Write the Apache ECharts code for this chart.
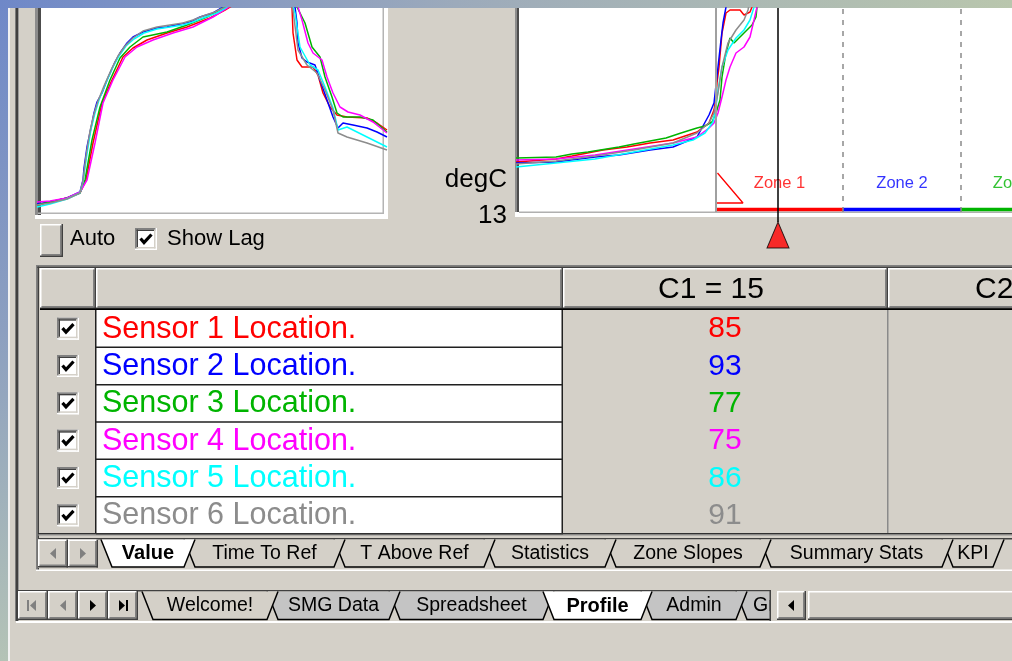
<!DOCTYPE html>
<html><head><meta charset="utf-8">
<script src="https://cdn.jsdelivr.net/npm/echarts@6/dist/echarts.min.js"></script>
<style>html,body{margin:0;padding:0;background:#d4d0c8;overflow:hidden}#c{width:1012px;height:661px}</style>
</head><body><div id="c"></div>
<script>
// ---------------- DATA ----------------
const sensorNames = ['Sensor 1 Location.','Sensor 2 Location.','Sensor 3 Location.','Sensor 4 Location.','Sensor 5 Location.','Sensor 6 Location.'];
const sensorColors = ['#ff0000','#0000ff','#00b400','#ff00ff','#00ffff','#8c8c8c'];
const c1Values = [85, 93, 77, 75, 86, 91];
const tableHeaders = ['C1 = 15', 'C2 = 20'];
const lagOptions = ['Auto', 'Show Lag'];
const valueTabs = ['Value','Time To Ref','T Above Ref','Statistics','Zone Slopes','Summary Stats','KPI'];
const sheetTabs = ['Welcome!','SMG Data','Spreadsheet','Profile','Admin','Graphs'];
const zoneNames = ['Zone 1','Zone 2','Zone 3'];
const zoneColors = ['#ff0000','#0000ff','#00b400'];
const zoneEdges = [200, 327, 445, 560];     // seconds
const cursorTime = 262;                      // seconds
const zoomWindow = [0, 496];                 // visible seconds in the zoomed view
const yAxisUnit = 'degC';
const yAxisMinLabel = 13;

// full profile (time s, temperature degC)
const fullS1 = [[0,21],[13,24],[30,28],[43,33],[49,46],[56,83],[65,123],[75,146],[86,169],[96,178],[110,186],[130,193],[150,199],[173,208],[188,216],[205,226],[230,238],[250,232],[255,219],[256,193],[260,166],[265,159],[276,159],[281,151],[286,133],[293,119],[300,111],[310,109],[330,108],[340,103],[350,96]];
const fullS2 = [[0,22],[13,24],[30,28],[43,34],[46,46],[47,58],[50,79],[55,103],[57,113],[60,124],[65,133],[70,146],[78,164],[83,173],[90,183],[96,189],[106,194],[120,198],[130,199],[143,202],[153,204],[163,209],[176,213],[186,219],[205,230],[230,240],[252,232],[258,219],[260,203],[261,183],[265,168],[270,164],[278,161],[283,146],[290,126],[296,109],[301,98],[306,103],[316,101],[330,98],[340,94],[350,89]];
const fullS3 = [[0,21],[13,24],[30,28],[43,33],[48,46],[55,86],[63,119],[73,146],[83,168],[93,179],[106,189],[130,194],[150,201],[170,209],[186,218],[205,229],[230,238],[252,232],[260,219],[268,203],[275,179],[283,169],[288,149],[295,129],[300,113],[306,109],[323,109],[336,106],[350,94]];
const fullS4 = [[0,24],[13,25],[30,28],[43,34],[50,46],[58,83],[66,123],[76,146],[88,169],[100,179],[116,186],[136,193],[156,199],[176,209],[190,218],[208,228],[232,238],[254,232],[261,219],[265,206],[271,183],[276,173],[285,166],[290,149],[296,133],[303,119],[311,114],[323,111],[336,104],[350,93]];
const fullS5 = [[0,19],[13,22],[30,27],[43,33],[46,44],[50,72],[54,97],[58,113],[62,126],[68,141],[76,159],[82,170],[89,180],[97,187],[107,193],[120,197],[133,199],[146,201],[156,204],[166,208],[180,213],[190,219],[207,229],[232,238],[252,231],[258,213],[263,179],[273,161],[281,156],[288,139],[296,118],[301,96],[310,99],[330,89],[350,79]];
const fullS6 = [[0,21],[13,23],[30,27],[43,33],[46,45],[49,70],[53,95],[57,112],[61,125],[67,140],[75,158],[81,170],[88,180],[96,188],[106,195],[120,199],[133,201],[146,203],[156,206],[166,210],[178,214],[188,219],[205,229],[230,239],[251,231],[256,216],[261,176],[270,161],[280,153],[288,136],[296,116],[301,93],[310,89],[330,83],[350,76]];

// zoomed view around zone 1 (time s, temperature degC)
const zoomS1 = [[0,63],[40,66],[56,69],[87,75],[111,78],[134,82],[157,85],[181,93],[193,102],[198,115],[200,127],[201,142],[203,158],[206,192],[210,212],[214,215],[224,215],[228,210],[234,213],[236,218],[245,235]];
const zoomS2 = [[0,62],[40,63],[79,68],[103,70],[134,75],[157,78],[181,88],[193,110],[198,122],[202,158],[205,185],[207,202],[210,218],[214,235]];
const zoomS3 = [[0,67],[40,68],[56,71],[72,73],[103,78],[118,81],[150,87],[165,92],[181,97],[189,99],[196,103],[200,112],[204,125],[206,148],[210,172],[214,187],[218,182],[228,192],[236,200],[240,208],[241,218],[245,235]];
const zoomS4 = [[0,65],[40,66],[79,70],[118,76],[157,82],[181,88],[193,97],[198,102],[202,112],[206,128],[210,145],[214,158],[220,172],[228,178],[234,188],[238,205],[241,218],[245,235]];
const zoomS5 = [[0,58],[40,62],[79,66],[118,73],[157,80],[177,85],[189,92],[197,103],[200,118],[202,135],[206,158],[212,175],[220,187],[228,195],[234,205],[238,218],[242,235]];
const zoomS6 = [[0,61],[40,64],[79,69],[118,75],[157,82],[181,92],[193,102],[198,112],[202,132],[206,158],[212,182],[220,195],[228,205],[232,215],[236,235]];

const fullData = [fullS1, fullS2, fullS3, fullS4, fullS5, fullS6];
const zoomData = [zoomS1, zoomS2, zoomS3, zoomS4, zoomS5, zoomS6];

// ---------------- LAYOUT / DRAWING ----------------
const FONT = '"Liberation Sans", Arial, sans-serif';
const G = []; let zc = 0;
function add(el){ el.silent = true; el.z = 0.0004 * (zc++); G.push(el); }
function R(x,y,w,h,fill){ add({type:'rect', shape:{x:x,y:y,width:w,height:h}, style:{fill:fill}}); }
function PG(points, fill, stroke, lw){ const st = {fill:fill}; if (stroke){ st.stroke = stroke; st.lineWidth = lw; } add({type:'polygon', shape:{points:points}, style:st}); }
function PL(points, stroke, lw){ add({type:'polyline', shape:{points:points}, style:{stroke:stroke, lineWidth:lw, fill:null}}); }
function T(x,y,s,size,color,align,bold){
  add({type:'text', x:x, y:y, style:{text:s, fill:color, font:(bold?'bold ':'') + size + 'px ' + FONT,
       align:align||'left', verticalAlign:'middle', textAlign:align||'left', textVerticalAlign:'middle'}});
}
function raised(x,y,w,h,fill){
  R(x,y,w,h,fill||'#d4d0c8');
  R(x,y,w,1.5,'#ffffff'); R(x,y,1.5,h,'#ffffff');
  R(x+1.5,y+h-3,w-3,1.5,'#808080'); R(x+w-3,y+1.5,1.5,h-3,'#808080');
  R(x,y+h-1.5,w,1.5,'#404040'); R(x+w-1.5,y,1.5,h,'#404040');
}
function sunken(x,y,w,h,fill){
  R(x,y,w,h,fill);
  R(x,y,w,1.5,'#808080'); R(x,y,1.5,h,'#808080');
  R(x+1.5,y+1.5,w-3,1.5,'#404040'); R(x+1.5,y+1.5,1.5,h-3,'#404040');
  R(x,y+h-1.5,w,1.5,'#ffffff'); R(x+w-1.5,y,1.5,h,'#ffffff');
  R(x+1.5,y+h-3,w-3,1.5,'#d4d0c8'); R(x+w-3,y+1.5,1.5,h-3,'#d4d0c8');
}
function checkbox(x,y){
  sunken(x,y,22,22,'#ffffff');
  PL([[x+5.5,y+10.5],[x+9,y+14.5],[x+16.5,y+6.5]],'#000000',3.2);
}
function arrow(cx,cy,dir,color,bar){
  if (dir < 0){
    PG([[cx+3,cy-5.5],[cx+3,cy+5.5],[cx-3,cy]], color);
    if (bar) R(cx-6,cy-5.5,2,11,color);
  } else {
    PG([[cx-3,cy-5.5],[cx-3,cy+5.5],[cx+3,cy]], color);
    if (bar) R(cx+4,cy-5.5,2,11,color);
  }
}
function tabs(labels, layout, top, bottom, d, active, fills){
  const order = [];
  for (let i = labels.length-1; i >= 0; i--) if (i !== active) order.push(i);
  order.push(active);
  order.forEach(function(i){
    const L = layout[i][0], Rr = layout[i][1];
    const fill = i === active ? '#ffffff' : fills[i];
    PG([[L,top],[Rr,top],[Rr-d,bottom],[L+d,bottom]], fill);
    PL([[L,top],[L+d,bottom],[Rr-d,bottom],[Rr,top]], '#000000', 1.5);
    T((L+Rr)/2, (top+bottom)/2 + 0.5, labels[i], i === active ? 20 : 19.5, '#000000', 'center', i === active);
  });
}

// window background
R(0,0,1012,661,{type:'linear',x:0,y:0,x2:0,y2:1,colorStops:[{offset:0,color:'#6f88c8'},{offset:0.5,color:'#8c9fc0'},{offset:1,color:'#b4c3b6'}]});
R(0,0,1012,8,{type:'linear',x:0,y:0,x2:1,y2:0,colorStops:[{offset:0,color:'#6f88c8'},{offset:0.45,color:'#9caabb'},{offset:1,color:'#b9c6ad'}]});
R(8,8,1004,653,'#d4d0c8');
R(8,8,2,653,'#f2f2f2');
R(15,8,1,613,'#7a7a7a'); R(16,8,2,613,'#404040'); R(18,8,1,613,'#9a9a9a');
R(16,621,996,2,'#ffffff');

// left chart frame
R(35,8,353,211,'#ffffff');
R(35,8,3,207,'#8c8c8c'); R(38,8,3,207,'#4c4c4c');
R(38,212.5,346,1.5,'#b4b4b4'); R(382.5,8,1.5,206,'#b4b4b4');

// right chart frame
R(515,8,497,209,'#ffffff');
R(515,8,2,204,'#8c8c8c'); R(517,8,2,204,'#4c4c4c');
R(519,211.5,493,1.5,'#b0b0b0');
T(507,180,yAxisUnit,26,'#000000','right');
T(507,216,String(yAxisMinLabel),26,'#000000','right');

// Auto / Show Lag
raised(40,224,23,33);
T(70,238.5,lagOptions[0],22,'#000000','left');
checkbox(135,228);
T(167,238.5,lagOptions[1],22,'#000000','left');

// table frame
R(36,265,976,1.5,'#808080'); R(36,266.5,976,1.5,'#404040');
R(36,265,1.5,306,'#808080'); R(37.5,266.5,1.5,304,'#404040');
// header cells
raised(40,268,56,41);
raised(96,268,467,41);
raised(563,268,325,41);
raised(888,268,300,41);
R(40,308.5,972,1.5,'#000000');
T(711,290,tableHeaders[0],30,'#000000','center');
T(975,290,tableHeaders[1],30,'#000000','left');
// body
const rowTop = 310, rowH = 37.33;
R(96,310,467,223.5,'#ffffff');
R(95,310,1.5,224,'#202020'); R(561.5,310,1.5,224,'#202020');
R(887,310,1.5,223,'#8a8a8a');
sensorNames.forEach(function(name,i){
  const top = rowTop + i*rowH, cy = top + rowH/2;
  R(96, top+rowH-0.75, 467, 1.5, '#202020');
  checkbox(57, cy-11);
  T(102, cy+0.5, name, 30.5, sensorColors[i], 'left');
  T(725, cy+0.5, String(c1Values[i]), 30, sensorColors[i], 'center');
});
R(38,533,974,1.5,'#303030'); R(38,534.5,974,1,'#909090');

// value tab strip
R(38,538,974,1.5,'#404040');
raised(38,539.5,30,28); arrow(53,553.5,-1,'#808080');
raised(68,539.5,30,28); arrow(83,553.5,1,'#808080');
tabs(valueTabs, [[101,195],[184,345],[334,495],[484,616],[605,771],[760,953],[942,1004]],
     539.5, 567, 11, 0, valueTabs.map(function(){return '#d4d0c8';}));
R(36,569.5,976,1.5,'#ffffff');

// sheet tab strip
R(18,590,753,1.5,'#404040');
raised(18,591,30,29); arrow(33,605.5,-1,'#808080',true);
raised(48,591,30,29); arrow(63,605.5,-1,'#808080');
raised(78,591,30,29); arrow(93,605.5,1,'#000000');
raised(108,591,30,29); arrow(122,605.5,1,'#000000',true);
tabs(sheetTabs, [[142,278],[267,400],[389,554],[543,652],[641,747],[736,834]],
     591.5, 619.5, 11, 3, ['#d4d0c8','#c4c4c4','#c4c4c4','#ffffff','#c4c4c4','#c4c4c4']);
R(771,588,241,33,'#d4d0c8');
R(769.5,590,1.5,31,'#404040');
raised(777,591,29,29); arrow(791,605.5,-1,'#000000');
raised(808,591,220,29);
R(16,621,996,2,'#ffffff');

// ---------------- CHART ----------------
const series = [];
fullData.forEach(function(d,i){
  series.push({type:'line', name:sensorNames[i], xAxisIndex:0, yAxisIndex:0, data:d, showSymbol:false, symbol:'none',
    lineStyle:{color:sensorColors[i], width:1.5}, itemStyle:{color:sensorColors[i]}, z:3, silent:true});
});
zoomData.forEach(function(d,i){
  series.push({type:'line', name:sensorNames[i]+' zoom', xAxisIndex:1, yAxisIndex:1, data:d, showSymbol:false, symbol:'none',
    lineStyle:{color:sensorColors[i], width:1.5}, itemStyle:{color:sensorColors[i]}, z:3, silent:true});
});
// zone bars + boundary lines
zoneNames.forEach(function(z,k){
  const s = {type:'line', xAxisIndex:1, yAxisIndex:1, data:[[zoneEdges[k],15.5],[zoneEdges[k+1],15.5]], showSymbol:false, symbol:'none',
    lineStyle:{color:zoneColors[k], width:3.5}, z:4, silent:true};
  if (k === 0) {
    s.markLine = {silent:true, symbol:'none', label:{show:false}, animation:false,
      data:[{xAxis:zoneEdges[0], lineStyle:{color:'#a0a0a0', width:2, type:'solid'}}].concat(
        zoneEdges.slice(1,3).map(function(e){ return {xAxis:e, lineStyle:{color:'#8a8a8a', width:1.5, type:[5,6]}}; }))};
  }
  series.push(s);
});
// zone labels
series.push({type:'scatter', xAxisIndex:1, yAxisIndex:1, symbolSize:1, itemStyle:{color:'rgba(0,0,0,0)'}, silent:true, z:5, clip:false,
  data: zoneNames.map(function(z,k){ return {name:z, value:[(zoneEdges[k]+zoneEdges[k+1])/2, 42],
    label:{show:true, position:'inside', formatter:'{b}', color:zoneColors[k], fontSize:16.5, fontFamily:FONT}}; })});
// zone start slope marker
series.push({type:'line', xAxisIndex:1, yAxisIndex:1, data:[[zoneEdges[0]+1.5,52],[zoneEdges[0]+27,22],[zoneEdges[0]+1,22]],
  showSymbol:false, symbol:'none', lineStyle:{color:'#ff0000', width:1.3}, z:4, silent:true});
// cursor
series.push({type:'line', xAxisIndex:1, yAxisIndex:1, data:[[cursorTime,217],[cursorTime,3]], showSymbol:false, symbol:'none',
  lineStyle:{color:'#000000', width:1.5}, z:6, silent:true, clip:false});
series.push({type:'scatter', xAxisIndex:1, yAxisIndex:1, data:[[cursorTime,13]], symbol:'triangle', symbolSize:[22,26], symbolOffset:[0,23],
  itemStyle:{color:'#ff0000', borderColor:'#000000', borderWidth:1}, z:7, silent:true, clip:false});

const option = {
  animation:false,
  backgroundColor:'transparent',
  graphic:{elements:G},
  grid:[{left:37, top:8, width:351, height:205}, {left:516, top:8, width:zoomWindow[1]-zoomWindow[0], height:204}],
  xAxis:[
    {type:'value', gridIndex:0, min:0, max:351, show:false},
    {type:'value', gridIndex:1, min:zoomWindow[0], max:zoomWindow[1], show:false}
  ],
  yAxis:[
    {type:'value', gridIndex:0, min:13, max:218, show:false},
    {type:'value', gridIndex:1, min:13, max:217, show:false}
  ],
  series:series
};
const chart = echarts.init(document.getElementById('c'), null, {renderer:'canvas', width:1012, height:661});
chart.setOption(option);
</script></body></html>
